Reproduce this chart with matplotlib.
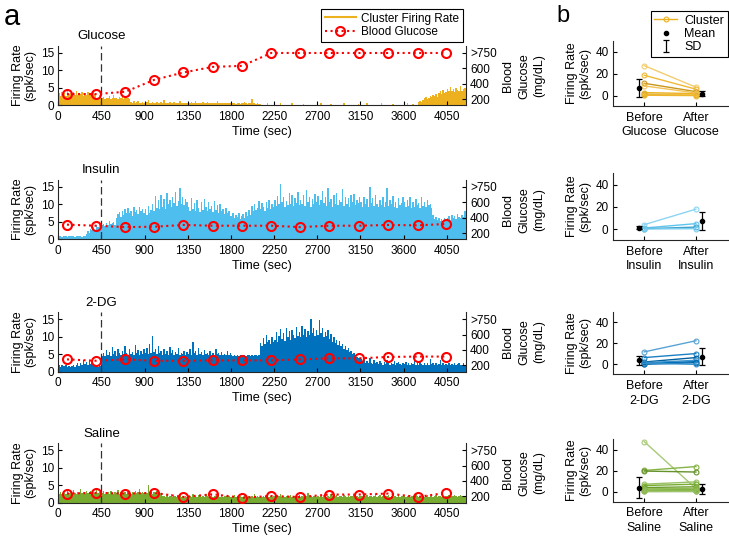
import numpy as np
import matplotlib.pyplot as plt
from matplotlib.lines import Line2D
from matplotlib.colors import to_rgb
from matplotlib.transforms import blended_transform_factory

plt.rcParams['font.family'] = ['Liberation Sans', 'DejaVu Sans']
plt.rcParams['font.size'] = 8.5
plt.rcParams['axes.linewidth'] = 0.8
plt.rcParams['axes.edgecolor'] = '#262626'
plt.rcParams['xtick.direction'] = 'in'
plt.rcParams['ytick.direction'] = 'in'
plt.rcParams['xtick.major.size'] = 3
plt.rcParams['ytick.major.size'] = 3
plt.rcParams['xtick.major.pad'] = 4
plt.rcParams['ytick.major.pad'] = 3

# firing rate, 15 s bins from 0 to 4260 s (30 bins per 450 s)
bin_edges = np.arange(0, 4261, 15)

glucose_rate = [
    3.4, 2.8, 3.8, 3.0, 3.6, 2.6, 4.0, 3.2, 3.4, 2.8, 3.8, 3.0, 4.1, 2.9, 3.6, 3.2, 3.8, 2.8, 3.4, 3.0, 3.9, 3.1, 3.5, 2.8, 4.0, 3.2, 2.2, 2.0, 3.0, 2.2,
    2.0, 2.4, 1.8, 2.2, 2.0, 2.8, 1.9, 2.2, 3.0, 2.0, 2.2, 1.8, 2.4, 2.0, 2.6, 1.9, 2.1, 2.8, 2.0, 1.8, 0.9, 0.8, 1.1, 0.8, 0.9, 1.3, 0.8, 0.7, 0.9, 0.7,
    0.8, 0.9, 1.6, 0.8, 0.7, 0.9, 0.8, 0.6, 1.0, 0.8, 0.7, 0.9, 0.8, 1.4, 0.7, 0.8, 0.6, 0.9, 0.8, 0.7, 0.9, 0.6, 0.8, 0.7, 1.2, 0.8, 0.7, 0.6, 0.8, 0.7,
    0.7, 0.8, 0.9, 0.6, 0.7, 1.3, 0.7, 0.6, 0.8, 0.7, 0.9, 0.6, 0.7, 1.0, 0.7, 0.6, 0.8, 0.7, 0.6, 0.7, 1.1, 0.7, 0.6, 0.8, 0.7, 0.6, 0.7, 0.8, 0.6, 0.7,
    0.6, 0.7, 0.8, 0.5, 0.6, 0.7, 0.5, 0.6, 0.7, 1.0, 0.6, 0.5, 0.7, 0.6, 1.8, 0.6, 0.7, 0.5, 0.6, 0.4, 0.3, 0.2, 0.2, 0.1, 0.2, 0.6, 0.2, 0.1, 0.2, 0.1,
    0.2, 0.1, 0.1, 0.2, 0.6, 0.1, 0.2, 0.1, 0.1, 0.2, 0.1, 0.1, 0.7, 0.1, 0.2, 0.1, 0.1, 0.2, 0.1, 0.1, 0.5, 0.1, 0.2, 0.1, 0.1, 0.2, 0.1, 0.1, 0.2, 0.1,
    0.1, 0.2, 0.6, 0.1, 0.1, 0.2, 0.1, 0.1, 0.1, 0.5, 0.1, 0.2, 0.1, 0.1, 0.2, 0.1, 0.1, 0.2, 0.6, 0.1, 0.1, 0.2, 0.1, 0.1, 0.2, 0.1, 0.1, 0.1, 0.5, 0.1,
    0.1, 0.2, 0.1, 0.1, 0.6, 0.1, 0.2, 0.1, 0.1, 0.1, 0.2, 0.1, 0.1, 0.1, 0.7, 0.1, 0.2, 0.1, 0.1, 0.1, 0.2, 0.1, 0.5, 0.1, 0.1, 0.2, 0.1, 0.1, 0.2, 0.1,
    0.2, 0.1, 0.6, 0.1, 0.2, 0.1, 0.3, 0.2, 0.1, 0.2, 0.9, 1.2, 1.0, 1.4, 2.0, 2.4, 1.8, 2.2, 2.8, 2.4, 3.0, 2.6, 3.2, 2.4, 3.6, 4.0, 3.2, 4.4, 3.6, 3.8,
    4.6, 4.0, 5.2, 4.2, 4.8, 3.8, 5.0, 4.4, 4.0, 5.4, 4.2, 4.6, 5.0, 4.4]

insulin_rate = [
    0.9, 1.0, 0.8, 0.9, 1.0, 0.9, 0.8, 1.0, 0.9, 1.0, 0.9, 0.8, 1.0, 0.9, 0.9, 1.0, 0.8, 0.9, 1.0, 1.6, 2.4, 1.8, 3.0, 2.6, 3.5, 2.8, 4.2, 3.6, 4.5, 3.8,
    4.0, 4.4, 3.8, 4.6, 4.2, 5.2, 4.4, 4.8, 5.0, 4.2, 6.0, 7.2, 7.8, 6.4, 8.0, 7.0, 8.6, 7.4, 9.0, 7.6, 8.2, 6.8, 9.2, 7.8, 8.4, 7.2, 9.4, 8.0, 8.8, 7.4,
    8.8, 7.0, 9.6, 7.6, 8.4, 10.2, 8.0, 12.4, 9.0, 11.2, 8.6, 12.8, 9.4, 11.6, 8.8, 13.2, 10.0, 11.4, 9.2, 12.0, 10.4, 13.6, 9.6, 11.0, 14.8, 10.2, 12.2, 9.8, 11.6, 10.6,
    9.4, 8.2, 11.8, 8.8, 10.4, 8.0, 11.2, 9.0, 7.8, 10.6, 8.4, 11.6, 9.2, 8.0, 10.8, 8.6, 9.6, 7.8, 11.0, 8.4, 9.8, 7.6, 10.2, 8.0, 8.8, 7.2, 9.0, 7.4, 8.2, 6.8,
    6.6, 7.4, 6.0, 7.0, 6.4, 7.6, 5.8, 6.8, 7.2, 6.2, 7.8, 6.6, 8.4, 7.0, 9.6, 8.0, 10.2, 8.4, 9.0, 11.0, 8.6, 10.4, 9.2, 8.2, 10.8, 9.0, 11.4, 8.8, 10.0, 9.4,
    11.2, 9.6, 12.4, 10.0, 15.8, 10.6, 12.0, 9.4, 11.0, 9.8, 13.4, 10.2, 12.6, 9.6, 11.8, 10.4, 13.6, 9.8, 11.4, 10.0, 12.8, 9.6, 14.2, 10.8, 12.0, 9.4, 11.6, 10.2, 13.0, 10.6,
    12.4, 9.8, 11.2, 13.8, 10.4, 12.0, 9.6, 14.6, 10.8, 11.6, 9.4, 12.8, 10.2, 13.2, 9.8, 11.4, 10.6, 14.4, 9.6, 12.2, 10.0, 11.8, 9.4, 12.6, 10.8, 13.0, 9.8, 11.2, 10.4, 12.0,
    10.8, 9.4, 12.2, 10.0, 11.6, 9.2, 15.0, 10.4, 11.8, 9.6, 12.6, 10.0, 9.2, 11.4, 9.8, 12.0, 9.4, 10.8, 14.8, 9.6, 11.2, 10.2, 12.4, 9.4, 10.6, 9.0, 11.8, 9.8, 10.4, 12.2,
    10.6, 9.2, 11.4, 9.6, 12.2, 9.0, 10.8, 9.4, 11.6, 9.8, 10.4, 9.0, 12.0, 9.6, 10.8, 9.2, 11.2, 9.8, 10.2, 9.0, 7.0, 5.8, 6.4, 5.4, 6.0, 5.2, 5.8, 5.0, 6.2, 5.4,
    6.0, 6.8, 5.6, 7.0, 6.2, 6.6, 5.8, 7.2, 6.4, 6.0, 7.0, 6.4, 8.2, 9.2]

dg_rate = [
    1.8, 1.4, 2.0, 1.6, 1.5, 1.9, 1.3, 1.7, 1.2, 1.6, 1.9, 1.4, 1.8, 2.6, 1.6, 2.4, 2.0, 3.2, 2.2, 2.8, 1.8, 3.4, 2.2, 2.6, 1.8, 1.5, 1.7, 1.4, 1.6, 1.5,
    4.6, 5.4, 4.4, 6.2, 4.8, 5.6, 4.6, 7.0, 5.0, 5.8, 4.6, 6.6, 5.2, 4.8, 6.0, 5.0, 7.2, 5.4, 4.8, 6.4, 5.0, 5.6, 4.8, 7.6, 5.2, 6.2, 4.8, 5.8, 5.0, 6.6,
    5.2, 6.8, 5.0, 7.8, 5.4, 10.2, 5.6, 6.4, 5.0, 7.2, 5.2, 6.0, 4.8, 6.6, 5.0, 5.8, 4.8, 7.0, 5.2, 6.2, 4.8, 5.6, 5.0, 6.8, 4.8, 5.4, 5.0, 6.0, 4.8, 5.6,
    5.0, 6.4, 4.8, 8.4, 5.2, 6.0, 4.8, 6.8, 5.0, 5.6, 4.8, 6.2, 5.0, 5.4, 4.8, 5.8, 4.8, 5.2, 4.8, 6.6, 5.0, 5.4, 4.8, 5.6, 4.8, 5.0, 4.8, 6.0, 4.8, 5.2,
    4.7, 4.6, 4.8, 4.6, 4.7, 4.6, 4.7, 4.8, 4.6, 4.7, 4.6, 4.7, 4.8, 4.6, 4.7, 4.6, 4.8, 4.7, 4.6, 4.7, 8.2, 7.4, 9.6, 8.0, 10.4, 8.4, 9.2, 7.8, 10.0, 8.6,
    9.0, 11.4, 8.6, 10.2, 12.2, 9.4, 11.0, 8.8, 12.6, 10.0, 11.6, 9.2, 12.0, 10.4, 9.6, 12.8, 10.2, 11.4, 9.8, 13.0, 10.6, 12.2, 9.8, 11.6, 10.4, 15.0, 11.0, 12.4, 10.2, 11.8,
    10.4, 14.8, 11.2, 12.6, 9.8, 11.4, 10.2, 12.0, 9.4, 10.8, 8.6, 10.0, 8.2, 9.2, 7.6, 8.8, 7.2, 8.0, 6.6, 7.4, 6.2, 6.8, 5.6, 6.0, 5.0, 5.4, 4.6, 4.2, 3.8, 4.0,
    3.6, 3.0, 3.4, 2.6, 3.0, 2.4, 3.8, 2.6, 2.2, 3.2, 2.4, 2.8, 2.2, 3.0, 2.4, 2.0, 2.8, 2.2, 3.4, 2.4, 2.0, 2.6, 2.2, 3.0, 2.0, 2.4, 2.8, 2.2, 2.0, 2.6,
    2.2, 2.8, 2.0, 2.4, 1.8, 2.6, 2.2, 3.0, 2.0, 2.4, 1.8, 2.8, 2.2, 2.0, 2.6, 1.8, 2.4, 2.0, 3.6, 2.2, 2.4, 1.8, 2.6, 2.0, 2.2, 3.4, 2.0, 2.4, 1.8, 2.2,
    2.0, 2.6, 1.8, 2.2, 2.0, 2.4, 1.8, 2.2, 2.6, 2.0, 1.8, 2.4, 2.0, 2.2]

saline_rate = [
    2.6, 3.0, 2.4, 3.2, 2.8, 2.5, 3.4, 2.7, 3.0, 2.6, 3.6, 2.8, 2.6, 3.0, 2.4, 3.8, 2.8, 3.0, 2.6, 3.2, 2.7, 2.9, 3.3, 2.6, 3.0, 2.8, 3.5, 2.7, 3.0, 2.8,
    2.8, 3.2, 2.6, 2.9, 3.0, 2.5, 3.4, 2.8, 2.6, 3.0, 2.8, 3.6, 2.5, 2.9, 3.1, 2.7, 3.0, 2.6, 3.4, 2.8, 2.6, 3.0, 2.8, 3.2, 2.7, 2.9, 3.8, 2.8, 3.0, 2.7,
    3.0, 2.8, 5.0, 2.9, 3.2, 2.6, 3.0, 2.8, 3.4, 2.7, 3.0, 2.8, 1.8, 2.0, 1.6, 2.2, 1.7, 1.9, 2.4, 1.6, 1.8, 2.0, 1.5, 1.9, 2.1, 1.6, 1.8, 1.4, 2.0, 1.7,
    1.8, 2.0, 1.6, 2.4, 1.7, 1.9, 1.5, 2.2, 1.8, 1.6, 2.0, 1.7, 2.6, 1.8, 1.5, 1.9, 2.1, 1.6, 1.8, 2.0, 1.5, 2.2, 1.7, 1.9, 1.6, 2.0, 1.8, 1.5, 1.9, 1.7,
    1.6, 1.9, 2.2, 1.5, 1.8, 1.6, 2.0, 1.7, 1.5, 2.3, 1.8, 1.6, 1.9, 1.5, 2.0, 1.7, 2.4, 1.6, 1.8, 1.5, 2.0, 1.7, 1.9, 1.6, 2.2, 1.8, 1.5, 1.9, 1.7, 2.0,
    1.8, 2.1, 1.6, 1.9, 2.5, 1.7, 1.8, 1.6, 2.0, 1.7, 1.9, 2.2, 1.6, 1.8, 2.0, 1.6, 1.9, 2.3, 1.7, 1.8, 1.6, 2.0, 1.8, 2.7, 1.7, 1.9, 1.6, 2.0, 1.8, 1.7,
    2.0, 1.7, 1.9, 1.6, 2.2, 1.8, 1.5, 2.0, 1.7, 2.4, 1.8, 1.6, 1.9, 2.1, 1.7, 1.8, 2.0, 1.6, 2.3, 1.8, 1.7, 1.9, 1.6, 2.0, 1.8, 2.2, 1.7, 1.9, 1.6, 2.0,
    1.8, 2.0, 1.7, 1.9, 2.3, 1.6, 1.8, 2.0, 1.7, 1.9, 2.5, 1.6, 1.8, 2.1, 1.7, 1.9, 1.6, 2.0, 1.8, 2.2, 1.6, 1.9, 1.7, 2.0, 1.8, 1.6, 2.1, 1.7, 1.9, 1.8,
    2.0, 1.7, 1.9, 2.2, 1.6, 1.8, 2.0, 1.7, 2.4, 1.8, 1.6, 2.0, 2.7, 1.8, 1.7, 1.9, 2.1, 1.6, 1.8, 2.0, 1.7, 1.9, 2.2, 1.6, 1.8, 2.0, 1.7, 1.9, 1.6, 1.8,
    1.9, 2.2, 1.7, 2.0, 1.8, 2.1, 1.9, 1.7, 2.0, 2.3, 1.8, 1.9, 2.0, 1.8]

# blood glucose samples (mg/dL), 800 = ">750"
bg_time = [90, 395, 700, 1000, 1305, 1610, 1915, 2220, 2520, 2825, 3130, 3440, 3745, 4045]
bg_glucose = [264, 264, 295, 450, 546, 619, 632, 800, 800, 800, 800, 800, 800, 800]
bg_insulin = [309, 295, 277, 282, 305, 295, 295, 295, 277, 295, 295, 305, 300, 318]
bg_dg = [277, 259, 277, 259, 259, 264, 264, 264, 277, 291, 291, 309, 314, 314]
bg_saline = [236, 245, 236, 245, 191, 227, 182, 204, 191, 223, 223, 236, 191, 245]

# panel b: per-cluster firing rate before / after injection
glu_before = [27.3, 18.5, 11.2, 8.8, 2.7, 1.2, 0.5, 0.3]
glu_after = [7.6, 5.8, 3.6, 2.4, 1.8, 0.6, 1.0, 0.0]
ins_before = [4.2, 1.2, 0.6, 0.3]
ins_after = [18.0, 5.1, 2.0, 0.6]
dg_before = [11.8, 6.4, 2.2, 1.6, 0.6, 0.0, 1.0]
dg_after = [22.4, 10.2, 6.4, 3.8, 2.6, 1.6, 0.0]
sal_before = [47.8, 20.3, 19.7, 7.2, 5.9, 4.0, 2.8, 1.6, 0.9, 0.3, 1.2]
sal_after = [3.0, 24.0, 18.8, 9.4, 7.2, 4.7, 3.4, 2.2, 0.9, 0.5, 1.5]

# mean and SD (before, after)
glu_mean, glu_sd = [7.0, 1.8], [8.5, 2.0]
ins_mean, ins_sd = [1.5, 7.3], [1.5, 8.3]
dg_mean, dg_sd = [3.8, 7.3], [4.5, 8.0]
sal_mean, sal_sd = [4.0, 2.8], [10.0, 5.0]

drugs = ['Glucose', 'Insulin', '2-DG', 'Saline']
colors = ['#EDB120', '#4DBEEE', '#0072BD', '#77AC30']
rates = [glucose_rate, insulin_rate, dg_rate, saline_rate]
bloods = [bg_glucose, bg_insulin, bg_dg, bg_saline]
befores = [glu_before, ins_before, dg_before, sal_before]
afters = [glu_after, ins_after, dg_after, sal_after]
means = [glu_mean, ins_mean, dg_mean, sal_mean]
sds = [glu_sd, ins_sd, dg_sd, sal_sd]


def shade(c, f):
    c = np.array(to_rgb(c))
    if f >= 0:
        return tuple(c + (1 - c) * f)
    return tuple(c * (1 + f))


shade_steps = [0.35, 0.1, -0.15, 0.25, 0.0, -0.1, 0.2, 0.05, -0.2, 0.3, 0.15]

fig = plt.figure(figsize=(7.29, 5.41), dpi=100)
W, H = 729.0, 541.0
a_tops = [46, 180, 312.3, 443.3]
b_tops = [40.7, 173.3, 311.7, 439.3]
b_bots = [106, 240, 374.3, 501.7]

err_handle = None
for i, drug in enumerate(drugs):
    # panel a
    ax = fig.add_axes([58.3 / W, 1 - (a_tops[i] + 59.3) / H, (466 - 58.3) / W, 59.3 / H])
    ax.stairs(rates[i], bin_edges, fill=True, color=colors[i], lw=0)
    ax.axvline(450, color='#333333', lw=0.9, dashes=(6, 3))
    ax.set_xlim(0, 4250)
    ax.set_ylim(0, 17)
    ax.set_xticks(np.arange(0, 4051, 450))
    ax.set_yticks([0, 5, 10, 15])
    ax.spines['top'].set_visible(False)
    ax.spines['right'].set_visible(False)
    ax.set_xlabel('Time (sec)', labelpad=2, fontsize=9.2)
    ax.set_ylabel('Firing Rate\n(spk/sec)', labelpad=3, linespacing=1.1, fontsize=9)
    tr = blended_transform_factory(ax.transData, ax.transAxes)
    ax.text(450, 1.06, drug, transform=tr, ha='center', va='bottom', fontsize=9.5)

    ax2 = ax.twinx()
    ax2.plot(bg_time, bloods[i], ':', color='#FF0000', lw=1.5, marker='o', ms=6.5,
             mfc='none', mew=1.5)
    ax2.set_ylim(118, 891)
    ax2.set_yticks([200, 400, 600, 800])
    ax2.set_yticklabels(['200', '400', '600', '>750'])
    ax2.spines['top'].set_visible(False)
    ax2.spines['left'].set_visible(False)
    ax2.spines['bottom'].set_visible(False)
    ax2.set_ylabel('Blood\nGlucose\n(mg/dL)', labelpad=4, linespacing=1.4, fontsize=9)

    # panel b
    bx = fig.add_axes([612.7 / W, 1 - b_bots[i] / H, (728 - 612.7) / W, (b_bots[i] - b_tops[i]) / H])
    for k in range(len(befores[i])):
        c = shade(colors[i], shade_steps[k % len(shade_steps)])
        bx.plot([1, 2], [befores[i][k], afters[i][k]], '-o', color=c, lw=1, ms=3.5,
                mfc='none', mew=0.8)
    bx.plot([0.9, 2.12], means[i], '.', color='black', ms=6, ls='none')
    eb = bx.errorbar([0.9, 2.12], means[i], yerr=sds[i], fmt='none', ecolor='black',
                     elinewidth=0.9, capsize=2, capthick=0.9)
    if err_handle is None:
        err_handle = eb
    bx.set_xlim(0.39, 2.62)
    bx.set_ylim(-9.5, 50)
    bx.set_yticks([0, 20, 40])
    bx.set_xticks([1, 2])
    bx.set_xticklabels(['Before\n' + drug, 'After\n' + drug], linespacing=1.3, fontsize=9)
    bx.spines['top'].set_visible(False)
    bx.spines['right'].set_visible(False)
    bx.set_ylabel('Firing Rate\n(spk/sec)', labelpad=3, linespacing=1.1, fontsize=9)

# legends
h1 = Line2D([], [], color=colors[0], lw=1.5)
h2 = Line2D([], [], color='#FF0000', ls=':', lw=1.5, marker='o', ms=6.5, mfc='none', mew=1.5)
leg = fig.legend([h1, h2], ['Cluster Firing Rate', 'Blood Glucose'], loc='upper right',
                 bbox_to_anchor=(463 / W, 1 - 9 / H), frameon=True, fancybox=False,
                 edgecolor='black', framealpha=1, handlelength=2.6, borderpad=0.3,
                 labelspacing=0.15, handletextpad=0.5, borderaxespad=0)
leg.get_frame().set_linewidth(0.8)

g1 = Line2D([], [], color=colors[0], lw=1, marker='o', ms=3.5, mfc='none', mew=0.8)
g2 = Line2D([], [], color='black', marker='.', ms=6, ls='none')
leg2 = fig.legend([g1, g2, err_handle], ['Cluster', 'Mean', 'SD'], loc='upper right',
                  bbox_to_anchor=(728 / W, 1 - 11 / H), frameon=True, fancybox=False,
                  edgecolor='black', framealpha=1, handlelength=1.8, borderpad=0.3,
                  labelspacing=0.1, handletextpad=0.6, borderaxespad=0, fontsize=9)
leg2.get_frame().set_linewidth(0.8)

fig.text(4 / W, 1 - 25 / H, 'a', fontsize=21, va='baseline')
fig.text(556 / W, 1 - 22 / H, 'b', fontsize=17, va='baseline')

fig.savefig('out.png', dpi=100)
